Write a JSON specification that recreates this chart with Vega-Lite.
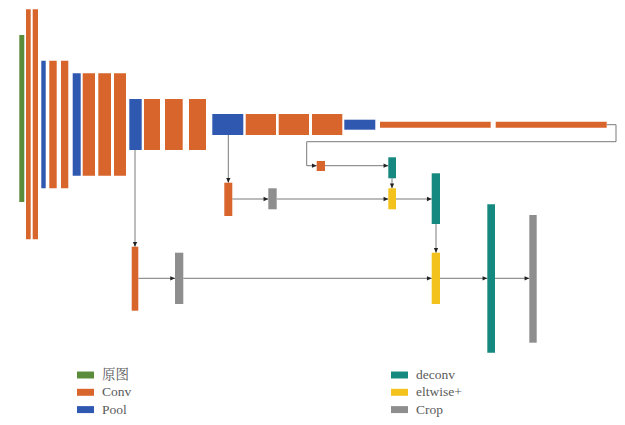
{
  "$schema": "https://vega.github.io/schema/vega-lite/v6.json",
  "autosize": {"type": "fit", "contains": "padding"},
  "width": 625,
  "height": 425,
  "padding": 0,
  "background": "white",
  "config": {"view": {"stroke": null}},
  "datasets": {
    "blocks": [
      {"type": "原图", "x0": 19.3, "x1": 24.3, "y0": 35, "y1": 202},
      {"type": "Conv", "x0": 26, "x1": 30.7, "y0": 9.3, "y1": 239.3},
      {"type": "Conv", "x0": 32.7, "x1": 38, "y0": 9.3, "y1": 239.3},
      {"type": "Pool", "x0": 41.3, "x1": 45.7, "y0": 60.7, "y1": 188.3},
      {"type": "Conv", "x0": 49.3, "x1": 56.7, "y0": 60.7, "y1": 188.3},
      {"type": "Conv", "x0": 61, "x1": 68.3, "y0": 60.7, "y1": 188.3},
      {"type": "Pool", "x0": 72.7, "x1": 80.7, "y0": 73.3, "y1": 175.7},
      {"type": "Conv", "x0": 82.7, "x1": 95, "y0": 73.3, "y1": 175.7},
      {"type": "Conv", "x0": 98.3, "x1": 111, "y0": 73.3, "y1": 175.7},
      {"type": "Conv", "x0": 114, "x1": 126, "y0": 73.3, "y1": 175.7},
      {"type": "Pool", "x0": 129.3, "x1": 141.7, "y0": 99, "y1": 150},
      {"type": "Conv", "x0": 144, "x1": 160, "y0": 99, "y1": 150},
      {"type": "Conv", "x0": 165, "x1": 182.7, "y0": 99, "y1": 150},
      {"type": "Conv", "x0": 189, "x1": 206, "y0": 99, "y1": 150},
      {"type": "Pool", "x0": 212.3, "x1": 243.3, "y0": 114, "y1": 135},
      {"type": "Conv", "x0": 245.7, "x1": 276, "y0": 114, "y1": 135},
      {"type": "Conv", "x0": 278.7, "x1": 309, "y0": 114, "y1": 135},
      {"type": "Conv", "x0": 312, "x1": 342.3, "y0": 114, "y1": 135},
      {"type": "Pool", "x0": 344.3, "x1": 375.3, "y0": 119.7, "y1": 129.7},
      {"type": "Conv", "x0": 380, "x1": 490.7, "y0": 121.7, "y1": 127.7},
      {"type": "Conv", "x0": 495.7, "x1": 606.7, "y0": 121.7, "y1": 127.7},
      {"type": "Conv", "x0": 316.7, "x1": 325, "y0": 161, "y1": 171},
      {"type": "deconv", "x0": 388.3, "x1": 396, "y0": 157.3, "y1": 178.3},
      {"type": "eltwise+", "x0": 388.3, "x1": 396, "y0": 188.3, "y1": 209.3},
      {"type": "Conv", "x0": 224.3, "x1": 232.3, "y0": 182.7, "y1": 216},
      {"type": "Crop", "x0": 268.3, "x1": 276.7, "y0": 188.3, "y1": 209.3},
      {"type": "deconv", "x0": 431.7, "x1": 440, "y0": 173.3, "y1": 224},
      {"type": "eltwise+", "x0": 431.7, "x1": 440, "y0": 252.7, "y1": 304},
      {"type": "Conv", "x0": 131.7, "x1": 138.3, "y0": 246.7, "y1": 310.7},
      {"type": "Crop", "x0": 175, "x1": 183.3, "y0": 252.7, "y1": 304},
      {"type": "deconv", "x0": 487.3, "x1": 495, "y0": 204.3, "y1": 352.7},
      {"type": "Crop", "x0": 529.3, "x1": 536.7, "y0": 215, "y1": 342.7}
    ],
    "links": [
      {"x0": 606.7, "y0": 124.7, "x1": 616, "y1": 124.7, "arrow": "none"},
      {"x0": 616, "y0": 124.7, "x1": 616, "y1": 141.7, "arrow": "none"},
      {"x0": 616, "y0": 141.7, "x1": 306.7, "y1": 141.7, "arrow": "none"},
      {"x0": 306.7, "y0": 141.7, "x1": 306.7, "y1": 165.7, "arrow": "none"},
      {"x0": 306.7, "y0": 165.7, "x1": 316.7, "y1": 165.7, "arrow": "right"},
      {"x0": 325, "y0": 165.7, "x1": 388.3, "y1": 165.7, "arrow": "right"},
      {"x0": 392, "y0": 178.3, "x1": 392, "y1": 188.3, "arrow": "down"},
      {"x0": 228.3, "y0": 135, "x1": 228.3, "y1": 182.7, "arrow": "down"},
      {"x0": 232.3, "y0": 199, "x1": 268.3, "y1": 199, "arrow": "right"},
      {"x0": 276.7, "y0": 199, "x1": 388.3, "y1": 199, "arrow": "right"},
      {"x0": 396, "y0": 199, "x1": 431.7, "y1": 199, "arrow": "right"},
      {"x0": 436, "y0": 224, "x1": 436, "y1": 252.7, "arrow": "down"},
      {"x0": 135, "y0": 150, "x1": 135, "y1": 246.7, "arrow": "down"},
      {"x0": 138.3, "y0": 278.3, "x1": 175, "y1": 278.3, "arrow": "right"},
      {"x0": 183.3, "y0": 278.3, "x1": 431.7, "y1": 278.3, "arrow": "right"},
      {"x0": 440, "y0": 278.3, "x1": 487.3, "y1": 278.3, "arrow": "right"},
      {"x0": 495, "y0": 278.3, "x1": 529.3, "y1": 278.3, "arrow": "right"}
    ]
  },
  "layer": [
    {
      "data": {"name": "links"},
      "mark": {"type": "rule", "color": "#7a7a7a", "strokeWidth": 1},
      "encoding": {
        "x": {"field": "x0", "type": "quantitative", "scale": {"domain": [0, 625], "nice": false, "zero": false}, "axis": null},
        "y": {"field": "y0", "type": "quantitative", "scale": {"domain": [0, 425], "nice": false, "zero": false, "reverse": true}, "axis": null},
        "x2": {"field": "x1"},
        "y2": {"field": "y1"}
      }
    },
    {
      "data": {"name": "blocks"},
      "mark": {"type": "rect", "stroke": null},
      "encoding": {
        "x": {"field": "x0", "type": "quantitative"},
        "x2": {"field": "x1"},
        "y": {"field": "y0", "type": "quantitative"},
        "y2": {"field": "y1"},
        "color": {
          "field": "type",
          "type": "nominal",
          "scale": {
            "domain": ["原图", "Conv", "Pool", "deconv", "eltwise+", "Crop"],
            "range": ["#5B8C3C", "#D8652C", "#2F58B0", "#15897F", "#F4C21C", "#8E8E8E"]
          },
          "legend": {
            "orient": "none",
            "legendX": 77,
            "legendY": 366.5,
            "title": null,
            "columns": 2,
            "columnPadding": 259,
            "rowPadding": 2.3,
            "symbolType": "M-1,-0.41H1V0.41H-1Z",
            "symbolSize": 289,
            "symbolStrokeWidth": 0,
            "symbolOpacity": 1,
            "labelFont": "'Liberation Serif', 'Noto Serif CJK SC', serif",
            "labelFontSize": 13.5,
            "labelColor": "#5a5a5a",
            "labelOffset": 8
          }
        }
      }
    },
    {
      "data": {"name": "links"},
      "transform": [{"filter": "datum.arrow !== 'none'"}],
      "mark": {"type": "point", "filled": true, "color": "#222222", "opacity": 1, "size": 90, "strokeWidth": 0},
      "encoding": {
        "x": {"field": "x1", "type": "quantitative"},
        "y": {"field": "y1", "type": "quantitative"},
        "shape": {
          "field": "arrow",
          "type": "nominal",
          "scale": {"domain": ["right", "down"], "range": ["M0,0L-1,-0.45L-1,0.45Z", "M0,0L-0.45,-1L0.45,-1Z"]},
          "legend": null
        }
      }
    }
  ]
}
